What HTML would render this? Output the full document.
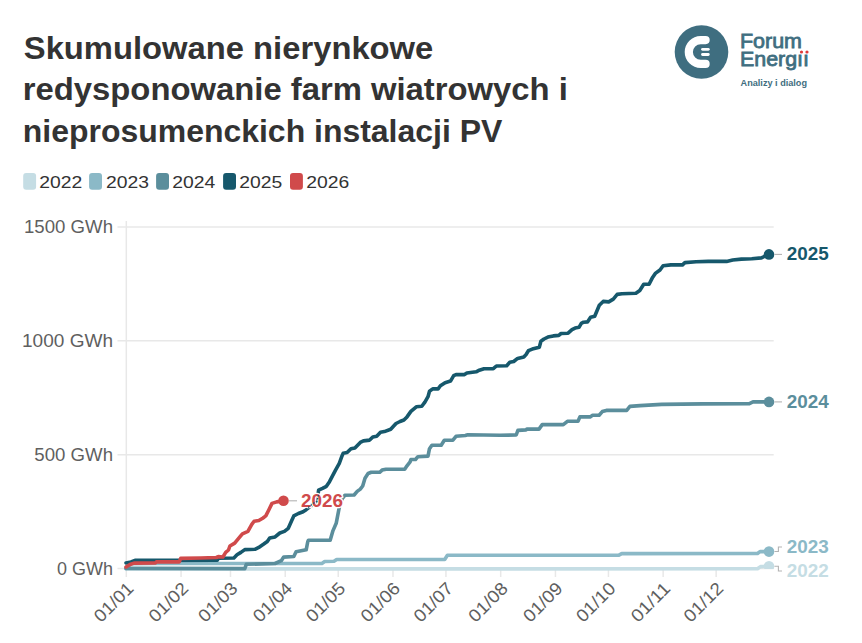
<!DOCTYPE html>
<html><head><meta charset="utf-8">
<style>
html,body{margin:0;padding:0;background:#fff;width:862px;height:643px;overflow:hidden}
svg{position:absolute;left:0;top:0;display:block}
text{font-family:"Liberation Sans",sans-serif}
</style></head><body>
<svg width="862" height="643" viewBox="0 0 862 643">

<g fill="#333333" font-weight="bold" font-size="32">
<text x="23.8" y="58.6" textLength="409.5" lengthAdjust="spacingAndGlyphs">Skumulowane nierynkowe</text>
<text x="22.8" y="100.2" textLength="545" lengthAdjust="spacingAndGlyphs">redysponowanie farm wiatrowych i</text>
<text x="22.8" y="141.8" textLength="479.5" lengthAdjust="spacingAndGlyphs">nieprosumenckich instalacji PV</text>
</g>
<g>
<circle cx="701.5" cy="52" r="26.8" fill="#3f6e80"/>
<path d="M705.6,40.1 H700.7 A11.9,11.9 0 0 0 700.7,63.9 H705.6" fill="none" stroke="#fff" stroke-width="8.2" stroke-linecap="round"/>
<line x1="702.5" y1="49.3" x2="708.3" y2="49.3" stroke="#fff" stroke-width="2.8" stroke-linecap="round"/>
<line x1="702.5" y1="54.5" x2="708.3" y2="54.5" stroke="#fff" stroke-width="2.8" stroke-linecap="round"/>
<g fill="#3f6e80" stroke="#3f6e80" stroke-width="0.8">
<text x="740" y="48.4" font-size="20.5" textLength="62" lengthAdjust="spacingAndGlyphs">Forum</text>
<text x="740" y="65.8" font-size="20.5" textLength="69" lengthAdjust="spacingAndGlyphs">Energıı</text>
</g>
<circle cx="801.5" cy="52" r="1.6" fill="#e03a3a"/>
<circle cx="807" cy="52" r="1.6" fill="#e03a3a"/>
<text x="740.6" y="86.1" font-size="8.6" font-weight="bold" fill="#3f6e80" textLength="66.4" lengthAdjust="spacingAndGlyphs">Analizy i dialog</text>
</g>

<rect x="23.2" y="172.9" width="12.9" height="16.8" rx="3" fill="#c5dde4"/>
<text x="39.2" y="188" font-size="17.2" fill="#333" textLength="43" lengthAdjust="spacingAndGlyphs">2022</text>
<rect x="89.1" y="172.9" width="12.9" height="16.8" rx="3" fill="#8bb9c7"/>
<text x="105.9" y="188" font-size="17.2" fill="#333" textLength="43" lengthAdjust="spacingAndGlyphs">2023</text>
<rect x="156.1" y="172.9" width="12.9" height="16.8" rx="3" fill="#5b8e9c"/>
<text x="172.29999999999998" y="188" font-size="17.2" fill="#333" textLength="43" lengthAdjust="spacingAndGlyphs">2024</text>
<rect x="223.1" y="172.9" width="12.9" height="16.8" rx="3" fill="#16586c"/>
<text x="239.2" y="188" font-size="17.2" fill="#333" textLength="43" lengthAdjust="spacingAndGlyphs">2025</text>
<rect x="290" y="172.9" width="12.9" height="16.8" rx="3" fill="#d04a4b"/>
<text x="306.2" y="188" font-size="17.2" fill="#333" textLength="43" lengthAdjust="spacingAndGlyphs">2026</text>
<g stroke="#e8e8e8" stroke-width="1.5">
<line x1="117.5" y1="568.50" x2="773.7" y2="568.50"/>
<line x1="117.5" y1="454.67" x2="773.7" y2="454.67"/>
<line x1="117.5" y1="340.83" x2="773.7" y2="340.83"/>
<line x1="117.5" y1="227.00" x2="773.7" y2="227.00"/>
<line x1="126.3" y1="221" x2="126.3" y2="577"/>
<line x1="181.05" y1="568.5" x2="181.05" y2="577"/>
<line x1="230.49" y1="568.5" x2="230.49" y2="577"/>
<line x1="285.24" y1="568.5" x2="285.24" y2="577"/>
<line x1="338.22" y1="568.5" x2="338.22" y2="577"/>
<line x1="392.97" y1="568.5" x2="392.97" y2="577"/>
<line x1="445.95" y1="568.5" x2="445.95" y2="577"/>
<line x1="500.69" y1="568.5" x2="500.69" y2="577"/>
<line x1="555.44" y1="568.5" x2="555.44" y2="577"/>
<line x1="608.42" y1="568.5" x2="608.42" y2="577"/>
<line x1="663.16" y1="568.5" x2="663.16" y2="577"/>
<line x1="716.14" y1="568.5" x2="716.14" y2="577"/>
</g>
<g fill="#5f5f5f" font-size="17.6" text-anchor="end">
<text x="113" y="574.50" textLength="56" lengthAdjust="spacingAndGlyphs">0 GWh</text>
<text x="113" y="460.67" textLength="78.7" lengthAdjust="spacingAndGlyphs">500 GWh</text>
<text x="113" y="346.83" textLength="91" lengthAdjust="spacingAndGlyphs">1000 GWh</text>
<text x="113" y="233.00" textLength="89" lengthAdjust="spacingAndGlyphs">1500 GWh</text>
</g>
<g fill="#5f5f5f" font-size="17.6" text-anchor="end">
<text transform="translate(134.60,589.6) rotate(-45)" textLength="47.5" lengthAdjust="spacingAndGlyphs">01/01</text>
<text transform="translate(189.35,589.6) rotate(-45)" textLength="47.5" lengthAdjust="spacingAndGlyphs">01/02</text>
<text transform="translate(238.79,589.6) rotate(-45)" textLength="47.5" lengthAdjust="spacingAndGlyphs">01/03</text>
<text transform="translate(293.54,589.6) rotate(-45)" textLength="47.5" lengthAdjust="spacingAndGlyphs">01/04</text>
<text transform="translate(346.52,589.6) rotate(-45)" textLength="47.5" lengthAdjust="spacingAndGlyphs">01/05</text>
<text transform="translate(401.27,589.6) rotate(-45)" textLength="47.5" lengthAdjust="spacingAndGlyphs">01/06</text>
<text transform="translate(454.25,589.6) rotate(-45)" textLength="47.5" lengthAdjust="spacingAndGlyphs">01/07</text>
<text transform="translate(508.99,589.6) rotate(-45)" textLength="47.5" lengthAdjust="spacingAndGlyphs">01/08</text>
<text transform="translate(563.74,589.6) rotate(-45)" textLength="47.5" lengthAdjust="spacingAndGlyphs">01/09</text>
<text transform="translate(616.72,589.6) rotate(-45)" textLength="47.5" lengthAdjust="spacingAndGlyphs">01/10</text>
<text transform="translate(671.46,589.6) rotate(-45)" textLength="47.5" lengthAdjust="spacingAndGlyphs">01/11</text>
<text transform="translate(724.44,589.6) rotate(-45)" textLength="47.5" lengthAdjust="spacingAndGlyphs">01/12</text>
</g>
<defs><clipPath id="clip"><rect x="0" y="0" width="862" height="569"/></clipPath></defs>
<g fill="none" stroke-width="3.6" stroke-linejoin="round" stroke-linecap="round">
<path d="M126.0,568.9 L757.5,568.8 L760.5,566.6 L769.0,566.4" stroke="#c5dde4"/>
<path d="M126.0,568.5 L131.0,563.6 L155.0,563.5 L321.9,563.4 L324.7,561.5 L334.0,561.3 L336.7,559.5 L444.7,559.5 L447.4,555.3 L618.5,555.3 L621.7,553.6 L757.5,553.5 L760.0,551.6 L769.0,551.6" stroke="#8bb9c7"/>
<path d="M126.0,568.4 L244.8,568.6 L246.3,564.3 L275.1,563.5 L281.3,560.7 L283.7,557.1 L293.8,556.5 L296.1,551.8 L306.2,549.8 L307.8,541.5 L308.5,540.2 L330.2,540.2 L333.0,530.6 L336.2,523.3 L338.6,510.9 L340.1,503.1 L342.4,498.4 L344.8,495.3 L354.1,495.0 L357.2,491.4 L360.3,489.1 L362.7,486.0 L365.0,478.2 L368.1,473.5 L371.2,472.3 L379.8,472.3 L382.1,470.1 L386.0,469.2 L404.7,469.2 L407.0,465.8 L410.1,461.9 L410.9,459.5 L415.5,459.5 L417.9,456.7 L428.0,456.1 L429.5,448.7 L431.9,445.2 L441.2,445.2 L444.3,440.2 L452.9,440.2 L456.0,436.3 L465.3,435.5 L467.7,434.8 L500.0,435.2 L516.2,435.0 L517.9,430.4 L526.0,429.9 L526.8,429.1 L539.0,429.1 L542.2,424.6 L563.3,424.6 L567.4,421.3 L578.0,421.3 L579.9,416.9 L590.1,416.9 L592.6,415.3 L599.1,415.3 L602.3,411.6 L606.4,410.4 L626.7,410.4 L629.9,406.4 L640.0,405.6 L661.7,404.4 L703.1,403.9 L749.4,403.6 L753.0,401.9 L769.0,401.9" stroke="#5b8e9c"/>
<path d="M126.0,563.0 L131.0,562.0 L135.0,560.4 L217.3,560.2 L218.3,558.3 L233.9,558.0 L237.0,554.8 L240.9,552.4 L244.8,549.6 L254.9,549.3 L258.8,547.4 L263.4,544.3 L267.3,541.5 L269.7,538.0 L275.1,536.9 L279.8,533.0 L284.4,531.4 L288.3,528.3 L291.4,521.3 L293.8,515.9 L298.4,513.5 L303.1,511.7 L306.2,509.7 L317.1,501.1 L318.6,490.2 L322.5,488.4 L326.4,486.3 L329.5,481.7 L335.4,470.4 L339.3,463.4 L342.1,455.7 L343.2,453.3 L347.1,452.6 L351.0,448.7 L354.9,447.9 L360.3,442.4 L363.4,440.9 L369.7,440.1 L372.8,437.0 L376.7,436.2 L380.5,432.3 L384.4,431.6 L390.7,429.2 L396.0,423.5 L400.0,421.5 L403.9,420.0 L407.0,416.9 L410.9,411.4 L416.3,406.8 L421.8,406.3 L424.9,402.1 L428.0,396.7 L429.5,391.2 L432.7,388.9 L438.1,388.9 L440.4,385.8 L445.1,382.7 L450.5,381.1 L453.7,375.7 L456.0,374.6 L464.5,374.6 L466.9,373.0 L476.2,371.8 L479.3,370.2 L484.0,368.7 L493.3,368.7 L496.4,366.0 L506.7,365.7 L509.8,362.3 L513.7,361.5 L517.6,358.4 L523.8,356.9 L526.1,354.5 L528.4,350.7 L532.3,349.1 L539.3,347.2 L540.9,341.3 L544.0,339.0 L547.9,337.1 L553.3,335.9 L558.8,335.4 L561.1,333.5 L568.1,333.2 L572.0,329.7 L575.1,328.1 L579.0,327.3 L581.3,323.4 L583.6,322.2 L587.5,321.9 L590.6,317.2 L594.7,316.2 L597.0,310.8 L599.3,305.3 L603.2,301.4 L608.7,301.9 L613.3,299.1 L617.2,294.4 L621.9,293.7 L635.9,293.2 L639.8,290.5 L643.7,284.3 L649.1,284.3 L652.2,278.1 L655.3,273.4 L660.0,270.0 L663.1,265.7 L670.9,264.9 L682.5,264.9 L684.9,262.6 L696.1,261.8 L708.3,261.4 L726.6,261.4 L732.7,260.0 L741.4,259.1 L751.8,258.8 L761.4,257.9 L764.9,256.2 L769.0,254.4" stroke="#16586c"/>
<path d="M126.0,567.0 L130.0,564.5 L134.0,563.1 L155.5,562.9 L156.5,561.8 L179.3,561.9 L180.7,558.4 L200.6,558.0 L216.4,557.5 L218.3,556.6 L222.9,557.0 L225.7,552.4 L228.5,550.0 L229.9,546.0 L234.7,543.1 L238.6,538.4 L242.4,533.8 L247.9,531.4 L251.8,524.4 L254.1,521.3 L258.8,520.5 L262.7,518.2 L265.8,515.9 L268.9,509.7 L272.0,503.4 L276.7,501.9 L283.6,500.8" stroke="#d04a4b"/>
</g>
<circle cx="769" cy="566.2" r="5.3" fill="#c5dde4" clip-path="url(#clip)"/>
<circle cx="769" cy="551.6" r="5.3" fill="#8bb9c7"/>
<circle cx="769" cy="401.9" r="5.3" fill="#5b8e9c"/>
<circle cx="769" cy="254.4" r="5.3" fill="#16586c"/>
<circle cx="283.5" cy="500.8" r="5.3" fill="#d04a4b"/>
<g stroke="#b3b3b3" stroke-width="1.1" fill="none">
<path d="M774.5,254.4 H782"/>
<path d="M774.5,401.9 H782"/>
<path d="M774.5,551.5 H778.4 V547 H782"/>
<path d="M774.5,566.3 H778.4 V571 H782"/>
<path d="M289,500.8 H297"/>
</g>
<g font-weight="bold" font-size="17.8" paint-order="stroke" stroke="#fff" stroke-width="2.5" stroke-linejoin="round">
<text x="786.8" y="259.8" fill="#16586c" textLength="42" lengthAdjust="spacingAndGlyphs">2025</text>
<text x="786.8" y="408" fill="#5b8e9c" textLength="42" lengthAdjust="spacingAndGlyphs">2024</text>
<text x="786.8" y="553.3" fill="#8bb9c7" textLength="42" lengthAdjust="spacingAndGlyphs">2023</text>
<text x="786.8" y="576.8" fill="#c5dde4" textLength="42" lengthAdjust="spacingAndGlyphs">2022</text>
<text x="301" y="506.8" fill="#d04a4b" textLength="42" lengthAdjust="spacingAndGlyphs">2026</text>
</g>
<path d="M305.5,509.3 L309.7,506.2 L313.4,503.2 L317.1,501.3 L318.5,494.6 L319.5,491.5" fill="none" stroke="#16586c" stroke-width="1.3" stroke-dasharray="1.6 1.6"/>
</svg></body></html>
